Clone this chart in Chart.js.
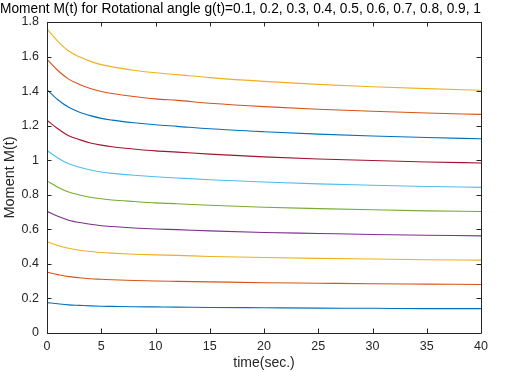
<!DOCTYPE html>
<html>
<head>
<meta charset="utf-8">
<script src="https://cdn.jsdelivr.net/npm/chart.js@4/dist/chart.umd.min.js"></script>
<style>
  html, body { margin: 0; padding: 0; background: #fff; }
  #wrap { width: 521px; height: 372px; }
</style>
</head>
<body>
<div id="wrap"><canvas id="c" width="521" height="372"></canvas></div>
<script>
// ---- data ----
const times = [0, 1, 2, 3, 4, 5, 6, 8, 10, 12, 15, 20, 25, 30, 35, 40];
const angleLabels = ['0.1', '0.2', '0.3', '0.4', '0.5', '0.6', '0.7', '0.8', '0.9', '1'];
const m01 = [0.176,0.169,0.163,0.160,0.157,0.155,0.154,0.152,0.151,0.150,0.148,0.146,0.144,0.143,0.141,0.141];
const m02 = [0.352,0.338,0.326,0.320,0.314,0.311,0.308,0.304,0.301,0.299,0.296,0.291,0.288,0.285,0.283,0.281];
const m03 = [0.528,0.506,0.490,0.479,0.472,0.466,0.462,0.456,0.452,0.449,0.443,0.437,0.432,0.428,0.424,0.422];
const m04 = [0.704,0.675,0.653,0.639,0.629,0.621,0.616,0.608,0.602,0.598,0.591,0.582,0.576,0.570,0.566,0.562];
const m05 = [0.880,0.844,0.816,0.799,0.786,0.777,0.770,0.761,0.753,0.748,0.739,0.728,0.720,0.713,0.707,0.703];
const m06 = [1.056,1.013,0.979,0.959,0.943,0.932,0.924,0.913,0.904,0.897,0.887,0.874,0.863,0.855,0.848,0.843];
const m07 = [1.232,1.182,1.142,1.119,1.100,1.087,1.078,1.065,1.054,1.047,1.035,1.019,1.007,0.998,0.990,0.984];
const m08 = [1.408,1.350,1.306,1.278,1.258,1.242,1.232,1.217,1.205,1.196,1.182,1.165,1.151,1.140,1.131,1.124];
const m09 = [1.584,1.519,1.469,1.438,1.415,1.398,1.386,1.369,1.355,1.346,1.330,1.310,1.295,1.283,1.273,1.265];
const m10 = [1.760,1.688,1.632,1.598,1.572,1.553,1.540,1.521,1.506,1.495,1.478,1.456,1.439,1.425,1.414,1.405];
const seriesValues = [m01, m02, m03, m04, m05, m06, m07, m08, m09, m10];
const xTickValues = [0, 5, 10, 15, 20, 25, 30, 35, 40];
const yTickValues = [0, 0.2, 0.4, 0.6, 0.8, 1, 1.2, 1.4, 1.6, 1.8];

// ---- styling ----
const colors = ['#0072BD','#D95319','#EDB120','#7E2F8E','#77AC30','#4DBEEE','#A2142F','#0072BD','#D95319','#EDB120'];
const axisColor = '#262626';
const fontFamily = 'Arial, "Liberation Sans", Helvetica, sans-serif';

const datasets = seriesValues.map((vals, i) => ({
  label: 'g(t)=' + angleLabels[i],
  data: times.map((t, j) => ({ x: t, y: vals[j] })),
  borderColor: colors[i],
  backgroundColor: colors[i],
  borderWidth: 1.1,
  pointRadius: 0,
  cubicInterpolationMode: 'monotone',
  fill: false
}));

const boxPlugin = {
  id: 'boxTicks',
  afterDatasetsDraw(chart) {
    const { ctx, chartArea: a, scales } = chart;
    const xs = scales.x, ys = scales.y;
    const tl = 4.5;
    ctx.save();
    ctx.strokeStyle = axisColor;
    ctx.lineWidth = 1;
    ctx.beginPath();
    ctx.rect(Math.round(a.left) + 0.5, Math.round(a.top) + 0.5,
             Math.round(a.right - a.left), Math.round(a.bottom - a.top));
    ctx.stroke();
    ctx.beginPath();
    xTickValues.forEach(v => {
      const px = Math.round(xs.getPixelForValue(v)) + 0.5;
      ctx.moveTo(px, a.bottom); ctx.lineTo(px, a.bottom - tl);
      ctx.moveTo(px, a.top); ctx.lineTo(px, a.top + tl);
    });
    yTickValues.forEach(v => {
      const py = Math.round(ys.getPixelForValue(v)) + 0.5;
      ctx.moveTo(a.left, py); ctx.lineTo(a.left + tl, py);
      ctx.moveTo(a.right, py); ctx.lineTo(a.right - tl, py);
    });
    ctx.stroke();
    ctx.restore();
  }
};

new Chart(document.getElementById('c'), {
  type: 'line',
  data: { datasets },
  plugins: [boxPlugin],
  options: {
    responsive: false,
    animation: false,
    devicePixelRatio: 1,
    layout: { padding: { left: 0, right: 40, top: 0, bottom: 0 } },
    plugins: {
      legend: { display: false },
      tooltip: { enabled: false },
      title: {
        display: true,
        text: 'Moment M(t) for Rotational angle g(t)=0.1, 0.2, 0.3, 0.4, 0.5, 0.6, 0.7, 0.8, 0.9, 1',
        color: '#000',
        font: { family: fontFamily, size: 13.8, weight: 'normal', lineHeight: 1.2 },
        padding: { top: 0.5, bottom: 4.9 }
      }
    },
    scales: {
      x: {
        type: 'linear',
        min: 0, max: 40,
        afterBuildTicks: s => { s.ticks = xTickValues.map(v => ({ value: v })); },
        afterFit: s => { s.height = 39; },
        grid: { display: false, drawTicks: false },
        border: { display: false },
        ticks: {
          color: axisColor, padding: 6.5, maxRotation: 0,
          font: { family: fontFamily, size: 12.5 },
          callback: v => String(v)
        },
        title: {
          display: true, text: 'time(sec.)', color: axisColor,
          font: { family: fontFamily, size: 14 },
          padding: { top: 0, bottom: 0 }
        }
      },
      y: {
        type: 'linear',
        min: 0, max: 1.8,
        afterBuildTicks: s => { s.ticks = yTickValues.map(v => ({ value: v })); },
        afterFit: s => { s.width = 47; },
        grid: { display: false, drawTicks: false },
        border: { display: false },
        ticks: {
          color: axisColor, padding: 8,
          font: { family: fontFamily, size: 12.5 },
          callback: v => String(Math.round(v * 10) / 10)
        },
        title: {
          display: true, text: 'Moment M(t)', color: axisColor,
          font: { family: fontFamily, size: 14.5 },
          padding: { top: 1.5, bottom: 0 }
        }
      }
    }
  }
});
</script>
</body>
</html>
